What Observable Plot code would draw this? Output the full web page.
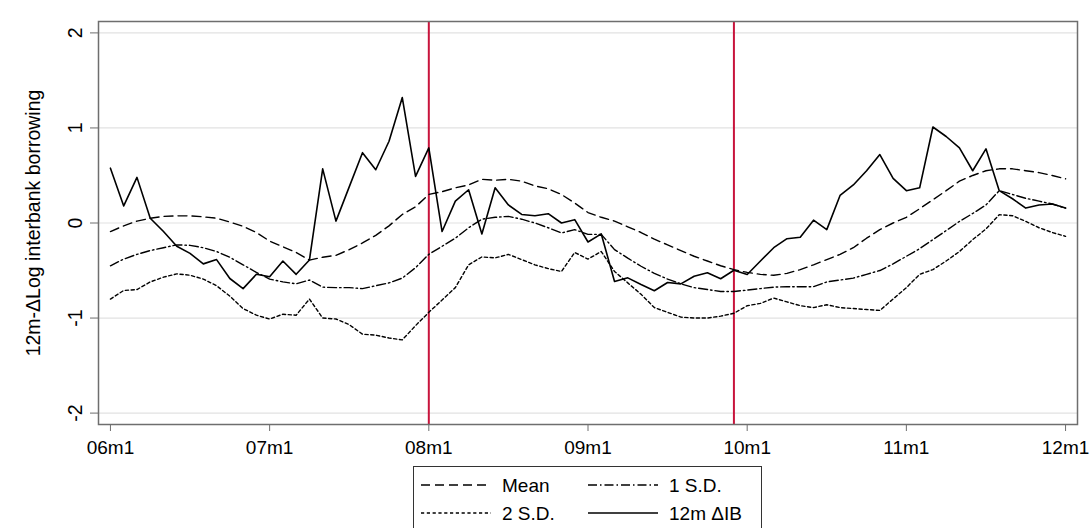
<!DOCTYPE html>
<html>
<head>
<meta charset="utf-8">
<script src="https://cdn.jsdelivr.net/npm/d3@7"></script>
<script src="https://cdn.jsdelivr.net/npm/@observablehq/plot@0.6"></script>
<style>
  html, body { margin: 0; padding: 0; background: #fff; }
  #wrap { position: relative; width: 1092px; height: 528px; overflow: hidden; background: #fff; font-family: "Liberation Sans", Arial, Helvetica, sans-serif; }
  #legend { position: absolute; left: 413px; top: 466px; }
</style>
</head>
<body>
<div id="wrap">
  <div id="chart"></div>
  <div id="legend"></div>
</div>
<script>
// Month index 0 = 2006m1 ... 72 = 2012m1
const xTicks = [0, 12, 24, 36, 48, 60, 72];
const xLabels = ["06m1", "07m1", "08m1", "09m1", "10m1", "11m1", "12m1"];
const yTicks = [-2, -1, 0, 1, 2];
const eventMonths = [24, 47]; // 2008m1, 2009m12

const ib = [
  0.577, 0.18, 0.48, 0.05, -0.09, -0.245, -0.32, -0.43, -0.385, -0.584, -0.69, -0.54,
  -0.566, -0.40, -0.54, -0.39, 0.57, 0.02, 0.38, 0.74, 0.56, 0.86, 1.32, 0.49,
  0.79, -0.09, 0.23, 0.35, -0.115, 0.37, 0.19, 0.09, 0.077, 0.098, 0.0, 0.035,
  -0.20, -0.115, -0.615, -0.577, -0.647, -0.713, -0.626, -0.64, -0.56, -0.524, -0.587, -0.497,
  -0.542, -0.40, -0.26, -0.165, -0.15, 0.03, -0.07, 0.29, 0.40, 0.55, 0.72, 0.47,
  0.34, 0.37, 1.01, 0.91, 0.79, 0.55, 0.78, 0.34, 0.255, 0.157, 0.19, 0.20,
  0.157
];
const mean = [
  -0.09, -0.03, 0.02, 0.05, 0.07, 0.075, 0.075, 0.065, 0.05, 0.01, -0.035, -0.10,
  -0.19, -0.25, -0.31, -0.39, -0.36, -0.34, -0.28, -0.21, -0.13, -0.03, 0.09, 0.17,
  0.30, 0.33, 0.37, 0.40, 0.46, 0.45, 0.46, 0.44, 0.39, 0.36, 0.30, 0.21,
  0.11, 0.06, 0.02, -0.04, -0.10, -0.17, -0.23, -0.29, -0.35, -0.40, -0.45, -0.49,
  -0.52, -0.54, -0.55, -0.53, -0.49, -0.44, -0.385, -0.33, -0.26, -0.16, -0.07, 0.0,
  0.06, 0.15, 0.245, 0.34, 0.44, 0.50, 0.55, 0.57, 0.57, 0.55, 0.53, 0.50,
  0.465
];
const sd1 = [
  -0.45, -0.38, -0.33, -0.29, -0.26, -0.23, -0.235, -0.26, -0.30, -0.36, -0.44, -0.52,
  -0.59, -0.62, -0.64, -0.60, -0.675, -0.68, -0.68, -0.69, -0.66, -0.63, -0.58, -0.47,
  -0.33, -0.245, -0.16, -0.05, 0.04, 0.06, 0.07, 0.04, 0.0, -0.05, -0.105, -0.07,
  -0.12, -0.12, -0.28, -0.37, -0.455, -0.53, -0.59, -0.64, -0.68, -0.70, -0.72, -0.72,
  -0.706, -0.69, -0.675, -0.67, -0.67, -0.67, -0.62, -0.60, -0.58, -0.54, -0.50, -0.43,
  -0.35, -0.27, -0.175, -0.08, 0.017, 0.10, 0.19, 0.34, 0.30, 0.26, 0.23, 0.20,
  0.157
];
const sd2 = [
  -0.80, -0.71, -0.70, -0.62, -0.57, -0.535, -0.55, -0.59, -0.66, -0.77, -0.90, -0.97,
  -1.01, -0.96, -0.97, -0.80, -1.00, -1.01, -1.07, -1.17, -1.18, -1.21, -1.23, -1.08,
  -0.94, -0.81, -0.68, -0.44, -0.357, -0.367, -0.33, -0.385, -0.44, -0.48, -0.51, -0.31,
  -0.38, -0.30, -0.51, -0.63, -0.75, -0.89, -0.94, -0.99, -1.00, -1.00, -0.98, -0.95,
  -0.87, -0.846, -0.79, -0.83, -0.87, -0.89, -0.86, -0.89, -0.90, -0.91, -0.92, -0.80,
  -0.68, -0.54, -0.49, -0.40, -0.30, -0.175, -0.063, 0.087, 0.077, 0.017, -0.05, -0.10,
  -0.14
];

const rows = ib.map((v, t) => ({t, ib: v, mean: mean[t], sd1: sd1[t], sd2: sd2[t]}));

const styles = {
  mean: {dash: "9,5", label: "Mean"},
  sd1: {dash: "9,3,1.5,3", label: "1 S.D."},
  sd2: {dash: "3.2,2.6", label: "2 S.D."},
  ib: {dash: null, label: "12m \u0394IB"}
};

const FONT = "'Liberation Sans', Arial, Helvetica, sans-serif";

const chart = Plot.plot({
  width: 1092,
  height: 460,
  marginLeft: 98,
  marginRight: 15,
  marginTop: 21,
  marginBottom: 36,
  style: {fontFamily: FONT, fontSize: "19px", color: "#000", background: "#fff"},
  x: {domain: [-0.9, 72.9]},
  y: {domain: [-2.12, 2.12]},
  marks: [
    Plot.gridY(yTicks, {stroke: "#e2e2e2", strokeOpacity: 1, strokeWidth: 1.2}),
    Plot.ruleX(eventMonths, {stroke: "#c8143c", strokeWidth: 2}),
    Plot.line(rows, {x: "t", y: "mean", stroke: "#000", strokeWidth: 1.4, strokeDasharray: styles.mean.dash}),
    Plot.line(rows, {x: "t", y: "sd1", stroke: "#000", strokeWidth: 1.4, strokeDasharray: styles.sd1.dash}),
    Plot.line(rows, {x: "t", y: "sd2", stroke: "#000", strokeWidth: 1.4, strokeDasharray: styles.sd2.dash}),
    Plot.line(rows, {x: "t", y: "ib", stroke: "#000", strokeWidth: 1.6}),
    Plot.frame({stroke: "#6e6e6e", strokeWidth: 1.5}),
    Plot.axisX(xTicks, {tickFormat: d => xLabels[xTicks.indexOf(d)], tickSize: 7, tickPadding: 9,
      stroke: "#6e6e6e", fontSize: 19, label: null}),
    Plot.axisY(yTicks, {tickRotate: -90, tickSize: 8, tickPadding: 9, stroke: "#6e6e6e", fontSize: 19.5,
      tickFormat: d => String(d),
      label: "12m-\u0394Log interbank borrowing", labelAnchor: "center", labelOffset: 72, labelArrow: "none"})
  ]
});
document.getElementById("chart").appendChild(chart);

// Legend below the chart
const lg = d3.select("#legend").append("svg")
  .attr("width", 349).attr("height", 70)
  .style("font-family", FONT)
  .style("font-size", "19px");
lg.append("rect").attr("x", 0.5).attr("y", 0.5).attr("width", 348).attr("height", 80)
  .attr("fill", "#fff").attr("stroke", "#333").attr("stroke-width", 1);
const items = [
  {key: "mean", col: 0, row: 0},
  {key: "sd1", col: 1, row: 0},
  {key: "sd2", col: 0, row: 1},
  {key: "ib", col: 1, row: 1}
];
items.forEach(it => {
  const x0 = it.col === 0 ? 8 : 175;
  const y0 = it.row === 0 ? 19 : 47;
  const st = styles[it.key];
  const ln = lg.append("line").attr("x1", x0).attr("x2", x0 + 70).attr("y1", y0).attr("y2", y0)
    .attr("stroke", "#000").attr("stroke-width", 1.4);
  if (st.dash) ln.attr("stroke-dasharray", st.dash);
  lg.append("text").attr("x", x0 + 81).attr("y", y0).attr("dy", "0.35em").attr("fill", "#000").text(st.label);
});
</script>
</body>
</html>
